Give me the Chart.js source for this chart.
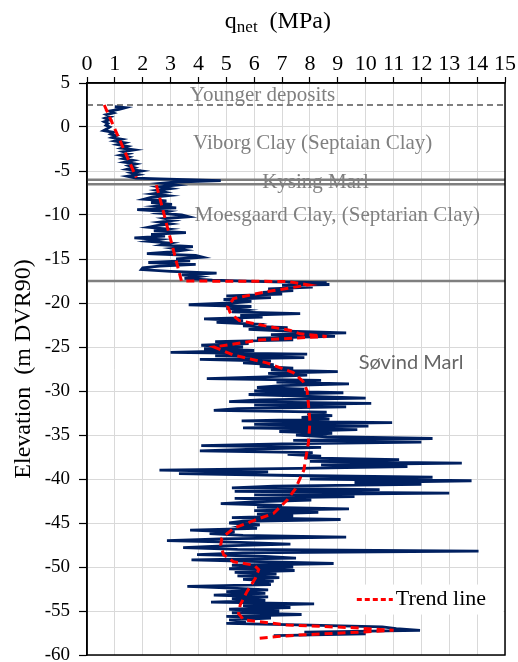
<!DOCTYPE html>
<html><head><meta charset="utf-8">
<script src="https://cdn.jsdelivr.net/npm/chart.js@4/dist/chart.umd.min.js"></script>
<style>html,body{margin:0;padding:0;background:#fff;}canvas{display:block;}</style>
</head><body>
<canvas id="c" width="518" height="662"></canvas>
<script>
// ---------------- DATA ----------------
const xTickValues = [0,1,2,3,4,5,6,7,8,9,10,11,12,13,14,15];
const yTickValues = [5,0,-5,-10,-15,-20,-25,-30,-35,-40,-45,-50,-55,-60];

// CPT trace: elevation (m DVR90) and q_net (MPa)
const traceElev = [
 2.3,2.2,2.0,1.8,1.6,1.4,1.2,1.0,0.8,0.6,0.4,0.2,0.0,-0.2,-0.4,-0.6,-0.8,-1.0,-1.2,-1.4,-1.6,-1.8,-2.0,-2.2,-2.4,-2.6,-2.8,-3.0,-3.2,-3.4,-3.6,-3.8,-4.0,-4.2,-4.4,-4.6,-4.8,-5.0,-5.2,-5.4,-5.6,-5.8,-5.9,-6.1,-6.25,-6.4,
 -6.6,-6.8,-7.0,-7.2,-7.4,-7.6,-7.8,-8.0,-8.2,-8.4,-8.6,-8.8,-9.0,-9.2,-9.4,-9.6,-9.8,-10.0,-10.2,-10.4,-10.6,-10.8,-11.0,-11.2,-11.4,-11.6,-11.8,-12.0,-12.2,-12.4,-12.6,-12.8,-13.0,-13.2,-13.4,-13.6,-13.8,-14.0,-14.2,-14.4,-14.6,-14.8,-15.0,-15.2,-15.4,-15.6,-15.8,-16.0,-16.2,-16.4,-16.6,-16.8,-17.0,-17.2,-17.4,
 -17.6,-17.7,-17.8,-17.9,-18.0,-18.2,-18.4,-18.6,-18.8,-19.0,-19.2,-19.4,-19.6,-19.8,-20.0,-20.2,-20.4,-20.6,-20.8,-21.0,-21.2,-21.4,-21.6,-21.8,-22.0,-22.2,-22.4,-22.6,-22.8,-23.0,-23.2,-23.4,-23.6,-23.8,-24.0,-24.2,-24.4,-24.6,-24.8,-25.0,-25.2,-25.4,-25.6,-25.8,-26.0,-26.2,-26.4,-26.6,-26.8,-27.0,-27.2,-27.4,-27.6,-27.8,-28.0,-28.2,-28.4,-28.6,-28.8,-29.0,-29.2,-29.4,-29.6,-29.8,-30.0,
 -30.2,-30.4,-30.6,-30.8,-31.0,-31.2,-31.4,-31.6,-31.8,-32.0,-32.2,-32.4,-32.6,-32.8,-33.0,-33.2,-33.4,-33.6,-33.8,-34.0,-34.2,-34.4,-34.6,-34.8,-35.0,-35.2,-35.4,-35.6,-35.8,-36.0,-36.2,-36.4,-36.6,-36.8,-37.0,-37.2,-37.4,-37.6,-37.8,-38.0,-38.2,-38.4,-38.6,-38.8,-39.0,-39.2,-39.4,-39.6,-39.8,-40.0,-40.2,-40.4,-40.6,-40.8,-41.0,-41.2,-41.4,-41.6,-41.8,-42.0,
 -42.2,-42.4,-42.6,-42.8,-43.0,-43.2,-43.4,-43.6,-43.8,-44.0,-44.2,-44.4,-44.6,-44.8,-45.0,-45.2,-45.4,-45.6,-45.8,-46.0,-46.2,-46.4,-46.6,-46.8,-47.0,-47.2,-47.4,-47.6,-47.8,-48.0,-48.2,-48.4,-48.6,-48.8,-49.0,-49.2,-49.4,-49.6,-49.8,-50.0,-50.2,-50.4,-50.6,-50.8,-51.0,-51.2,-51.4,-51.6,-51.8,-52.0,-52.2,-52.4,-52.6,-52.8,-53.0,-53.2,-53.4,-53.6,-53.8,-54.0,-54.2,-54.4,-54.6,-54.8,-55.0,-55.2,-55.4,-55.6,-55.8,-56.0,-56.2,-56.4,-56.6,-56.8,-57.0,-57.2,-57.4,-57.6,-57.8
];
const traceQ = [
 1.0,1.38,1.15,0.8,0.95,0.7,0.85,0.65,0.8,0.62,0.75,0.68,0.82,0.72,0.6,0.95,0.85,1.05,0.9,1.25,1.0,1.35,1.1,1.45,1.25,1.7,1.3,1.5,1.2,1.5,1.3,1.65,1.35,1.75,1.5,1.7,1.45,1.95,1.6,1.85,1.45,1.75,2.6,4.8,3.2,2.7,
 3.2,2.6,3.0,2.5,2.8,2.35,2.9,2.3,2.05,2.85,2.3,3.05,2.5,3.2,1.8,2.9,2.6,3.4,3.65,2.8,3.1,2.6,3.0,2.5,2.2,2.9,2.4,3.55,2.3,2.8,1.7,2.6,2.2,3.0,2.7,3.8,3.1,3.5,3.0,2.15,3.9,4.15,3.2,3.7,2.2,3.9,2.6,2.0,1.95,3.0,4.65,3.4,4.0,3.5,4.5,
 6.7,8.6,7.2,8.7,7.0,8.1,6.5,7.4,6.3,7.0,5.0,6.6,4.9,5.9,5.2,3.65,5.9,5.0,5.7,5.2,7.65,5.5,6.3,4.2,5.6,4.65,6.0,5.6,7.2,5.8,7.2,9.3,6.6,8.9,6.1,7.4,4.6,5.8,4.1,5.6,4.2,6.0,3.0,7.9,4.6,7.8,4.05,6.6,5.6,6.7,6.2,7.4,6.6,9.0,6.5,7.9,6.4,4.3,8.4,6.8,9.4,7.0,6.1,7.8,6.0,
 9.2,5.8,8.0,10.0,6.2,5.1,10.2,6.0,9.3,5.4,4.55,8.6,7.9,8.8,7.7,8.7,5.55,10.95,6.0,10.1,5.6,9.7,6.9,8.8,7.5,8.6,12.4,7.4,12.0,7.0,4.1,8.4,6.0,4.05,8.1,7.2,8.4,7.8,11.2,8.0,13.45,8.4,11.5,7.6,2.6,6.5,3.3,7.4,12.4,8.0,13.8,9.6,12.0,6.7,5.2,10.5,5.3,13.0,6.0,9.6,
 5.3,8.05,6.0,4.8,7.0,6.1,9.4,6.0,8.3,6.1,7.4,5.2,9.1,5.6,5.1,6.2,5.6,6.1,3.7,5.3,4.4,5.6,9.3,4.8,2.87,5.5,7.3,4.9,3.45,5.4,14.05,5.6,3.95,6.4,7.5,3.75,6.2,8.85,5.2,7.4,5.1,7.45,5.3,6.8,5.4,6.9,5.6,6.7,6.0,6.6,3.6,5.2,6.5,5.0,6.4,4.55,6.5,5.2,6.4,4.45,8.15,5.6,7.3,5.1,6.9,5.2,7.7,5.0,6.6,5.1,5.7,5.0,8.0,10.6,11.1,11.95,7.8,10.0,6.7
];

// Trend line (null separates the two pieces)
const trendElev = [2.5,-5.75,null,-6.6,-17.5,-17.55,-17.95,-18.7,-19.5,-20.4,-21.2,-22.0,-22.6,-23.1,-23.5,-23.8,-24.2,-25.0,-25.9,-26.8,-27.9,-28.9,-30.0,-31.6,-33.5,-35.8,-37.3,-39.0,-41.1,-42.4,-43.9,-44.7,-45.6,-46.7,-47.5,-48.6,-49.4,-49.8,-50.3,-51.3,-52.8,-54.3,-55.3,-56.0,-56.6,-56.9,-57.2,-57.4,-57.7,-57.9,-58.1];
const trendQ    = [0.62,1.77,null,2.49,3.39,7.2,7.95,6.45,5.26,5.05,5.15,5.47,6.4,7.27,7.65,8.6,6.2,4.55,5.25,6.45,7.4,7.75,7.9,7.95,8.0,7.95,7.87,7.78,7.48,7.18,6.7,6.0,5.26,4.84,4.8,4.9,5.26,6.0,6.16,6.04,5.74,5.5,5.44,5.62,7.18,9.57,11.0,9.8,7.78,6.82,6.16];

// Layer boundaries (elevation)
const boundaryElev = [2.5, -6.0, -6.5, -17.5];
const boundaryDashed = [true, false, false, false];

// Layer names
const layerNames = ["Younger deposits","Viborg Clay (Septaian Clay)","Kysing Marl","Moesgaard Clay, (Septarian Clay)","Søvind Marl"];

// ---------------- BUILD ----------------
const SERIF = '"Liberation Serif", "Times New Roman", serif';
const traceData = traceElev.map((e,i)=>({x:traceQ[i], y:e}));
const trendData = trendElev.map((e,i)=>({x:trendQ[i], y:e}));
const qMin = xTickValues[0], qMax = xTickValues[xTickValues.length-1];

const datasets = [
  {label:'Trend line', data:trendData, showLine:true, borderColor:'#ff0000', borderWidth:3, borderDash:[8,5], pointRadius:0, spanGaps:false, fill:false},
  {label:'q_net', data:traceData, showLine:true, borderColor:'#002060', borderWidth:2.8, pointRadius:0, fill:false}
];
boundaryElev.forEach((e,i)=>{
  datasets.push({label:'boundary', data:[{x:qMin,y:e},{x:qMax,y:e}], showLine:true, borderColor:'#7f7f7f',
    borderWidth: boundaryDashed[i] ? 2 : 2.5, borderDash: boundaryDashed[i] ? [6,4] : [], pointRadius:0});
});

// label anchors (data units) for layer names
const layerAnchors = [
  {q:6.3, e:3.6, font:'21px '+SERIF, color:'#808080'},
  {q:8.1, e:-1.9, font:'21px '+SERIF, color:'#808080'},
  {q:8.2, e:-6.35, font:'21px '+SERIF, color:'#808080'},
  {q:8.98, e:-10.0, font:'21px '+SERIF, color:'#808080'},
  {q:11.63, e:-26.8, font:'20px Lato, "Open Sans", sans-serif', color:'#666666'}
];

const annotPlugin = {
  id:'annot',
  beforeDatasetsDraw(chart){
    const {ctx, scales:{x,y}} = chart;
    ctx.save();
    ctx.textAlign='center'; ctx.textBaseline='middle';
    layerNames.forEach((t,i)=>{
      const a = layerAnchors[i];
      ctx.font = a.font; ctx.fillStyle = a.color;
      ctx.fillText(t, x.getPixelForValue(a.q), y.getPixelForValue(a.e));
    });
    ctx.restore();
  },
  afterDatasetsDraw(chart){
    const {ctx, chartArea:ca, scales:{x,y}} = chart;
    ctx.save();
    // legend box
    const lx0 = x.getPixelForValue(9.0), lx1 = ca.right-1.5;
    const ly = y.getPixelForValue(-53.7);
    ctx.fillStyle='#fff';
    ctx.fillRect(lx0, ly-15, lx1-lx0, 30);
    ctx.strokeStyle='#ff0000'; ctx.lineWidth=3; ctx.setLineDash([5,3]);
    ctx.beginPath(); ctx.moveTo(lx0+19, ly); ctx.lineTo(lx0+55, ly); ctx.stroke();
    ctx.setLineDash([]);
    ctx.fillStyle='#000'; ctx.font='22px '+SERIF; ctx.textAlign='left'; ctx.textBaseline='middle';
    ctx.fillText(datasets[0].label, lx0+58, ly);
    // frame
    ctx.strokeStyle='#000'; ctx.lineWidth=1.5;
    ctx.strokeRect(ca.left, ca.top, ca.right-ca.left, ca.bottom-ca.top);
    ctx.restore();
  },
  afterDraw(chart){
    const {ctx, scales:{x}} = chart;
    ctx.save();
    ctx.fillStyle='#000'; ctx.textBaseline='alphabetic'; ctx.textAlign='left';
    const big='24px '+SERIF, small='17px '+SERIF;
    ctx.font=big; const wq=ctx.measureText('q').width;
    ctx.font=small; const wn=ctx.measureText('net').width;
    ctx.font=big; const wm=ctx.measureText('  (MPa)').width;
    let cx = x.getPixelForValue(6.85) - (wq+wn+wm)/2;
    const base = 28;
    ctx.font=big; ctx.fillText('q', cx, base); cx+=wq;
    ctx.font=small; ctx.fillText('net', cx, base+4); cx+=wn;
    ctx.font=big; ctx.fillText('  (MPa)', cx, base);
    ctx.restore();
  }
};

new Chart(document.getElementById('c'), {
  type:'scatter',
  data:{datasets},
  options:{
    responsive:false, animation:false, devicePixelRatio:1,
    layout:{padding:{left:0,right:13,top:0,bottom:7}},
    plugins:{legend:{display:false}, tooltip:{enabled:false}},
    scales:{
      x:{type:'linear', position:'top', min:qMin, max:qMax,
        afterBuildTicks(s){ s.ticks = xTickValues.map(v=>({value:v})); },
        afterFit(s){ s.height = 83; s.paddingLeft = 0; s.paddingRight = 0; },
        ticks:{autoSkip:false, maxRotation:0, padding:0, color:'#000', font:{family:SERIF, size:22}},
        grid:{color:'#d9d9d9', lineWidth:1, tickLength:6, tickColor:'#000', tickWidth:1.2},
        border:{display:true, color:'#000', width:1.5},
        title:{display:false}
      },
      y:{type:'linear', position:'left', min:yTickValues[yTickValues.length-1], max:yTickValues[0],
        afterBuildTicks(s){ s.ticks = yTickValues.map(v=>({value:v})); },
        afterFit(s){ s.width = 87; s.paddingTop = 0; s.paddingBottom = 0; },
        ticks:{autoSkip:false, padding:9, color:'#000', font:{family:SERIF, size:19}},
        grid:{color:'#d9d9d9', lineWidth:1, tickLength:8, tickColor:'#000', tickWidth:1.2},
        border:{display:true, color:'#000', width:1.5},
        title:{display:true, text:'Elevation  (m DVR90)', color:'#000', font:{family:SERIF, size:24}, padding:{top:9,bottom:0}}
      }
    }
  },
  plugins:[annotPlugin]
});
</script>
</body></html>
